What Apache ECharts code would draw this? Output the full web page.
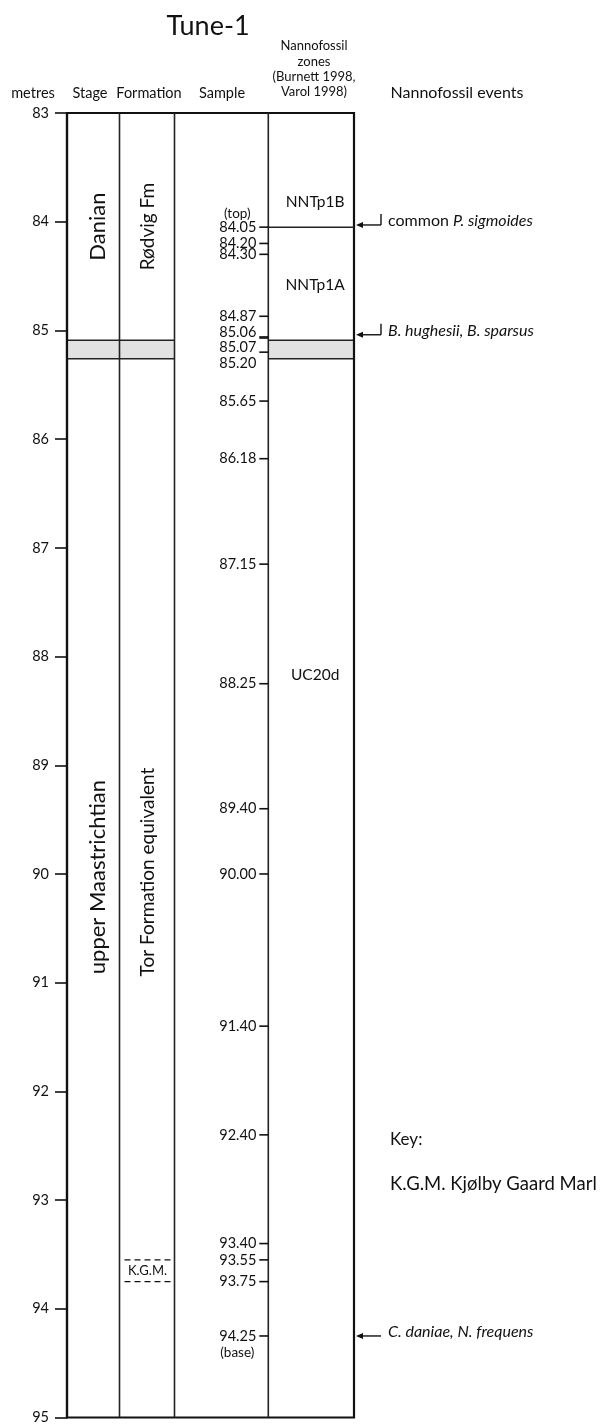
<!DOCTYPE html>
<html>
<head>
<meta charset="utf-8">
<title>Tune-1</title>
<script src="https://cdn.jsdelivr.net/npm/echarts@6/dist/echarts.min.js"></script>
<style>
  html, body { margin: 0; padding: 0; background: #fff; }
  #chart { width: 606px; height: 1425px; }
</style>
</head>
<body>
<div id="chart"></div>
<script>
// ---- Data ------------------------------------------------------------
// depth scale, metres
const depthTicks = [83, 84, 85, 86, 87, 88, 89, 90, 91, 92, 93, 94, 95];

// chronostratigraphy
const stageNames = ['Danian', 'upper Maastrichtian'];
const stageTop   = [83, 85.26];
const stageBase  = [85.09, 95];

// lithostratigraphy
const formationNames = ['Rødvig Fm', 'Tor Formation equivalent'];
const formationTop   = [83, 85.26];
const formationBase  = [85.09, 95];

// boundary clay interval
const boundaryClay = [85.09, 85.26];

// Kjølby Gaard Marl bed
const kgmBed = [93.55, 93.75];

// sample depths
const sampleDepths = [84.05, 84.20, 84.30, 84.87, 85.06, 85.07, 85.20, 85.65, 86.18,
                      87.15, 88.25, 89.40, 90.00, 91.40, 92.40, 93.40, 93.55, 93.75, 94.25];

// nannofossil zones
const zoneNames = ['NNTp1B', 'NNTp1A', 'UC20d'];
const zoneTop   = [83, 84.05, 85.26];
const zoneBase  = [84.05, 85.09, 95];

// nannofossil events
const eventNames  = ['common P. sigmoides', 'B. hughesii, B. sparsus', 'C. daniae, N. frequens'];
const eventDepths = [84.03, 85.04, 94.25];

// ---- Layout and style -----------------------------------------------
const FONT = 'Lato, "Open Sans", sans-serif';
const INK = '#111111';
const GRID = { left: 67, top: 113, width: 287, height: 1305 };
// column edges, px from the left edge of the log
const COL = { stage: [0, 52.5], formation: [52.5, 107.5], sample: [107.5, 201.3], zone: [201.3, 287] };
// depth at which each zone name is written
const zoneLabelDepth = [83.82, 84.58, 88.17];
// vertical shifts (px) of the rotated unit names from their interval centre
const stageLabelShift = [0, -11];
const formationLabelShift = [0, -16];
// vertical nudges (px) that keep crowded sample labels apart
const sampleLabelNudge = { '85.06': -5, '85.07': 9, '85.20': 11 };
// event marker style: bracketed arrow or plain arrow
const eventMarker = ['bracket', 'bracket', 'arrow'];

const chart = echarts.init(document.getElementById('chart'), null, { renderer: 'canvas' });

function textEl(x, y, text, size, opts, align) {
  return Object.assign({
    type: 'text',
    style: { x: x, y: y, text: text, font: size + 'px ' + FONT, fill: INK,
             align: align || 'center', verticalAlign: 'middle' }
  }, opts || {});
}

// frame and column dividers
const frameSeries = {
  type: 'custom', clip: false, silent: true, z: 6,
  data: [[0, depthTicks[0]]],
  renderItem: function (params, api) {
    const tl = api.coord([0, depthTicks[0]]);
    const br = api.coord([COL.zone[1], depthTicks[depthTicks.length - 1]]);
    const kids = [{
      type: 'rect',
      shape: { x: tl[0], y: tl[1], width: br[0] - tl[0], height: br[1] - tl[1] },
      style: { fill: null, stroke: INK, lineWidth: 2.2 }
    }];
    [COL.stage[1], COL.formation[1], COL.sample[1]].forEach(function (x) {
      const px = api.coord([x, depthTicks[0]])[0];
      kids.push({ type: 'line', shape: { x1: px, y1: tl[1], x2: px, y2: br[1] },
                  style: { stroke: '#222222', lineWidth: 1.6 } });
    });
    return { type: 'group', children: kids };
  }
};

// boundary clay band across the stage, formation and zone columns
const claySeries = {
  type: 'custom', clip: false, silent: true, z: 4,
  data: [boundaryClay],
  renderItem: function (params, api) {
    const top = api.value(0), base = api.value(1);
    const kids = [];
    [[COL.stage[0], COL.formation[1]], [COL.zone[0], COL.zone[1]]].forEach(function (span) {
      const a = api.coord([span[0], top]);
      const b = api.coord([span[1], base]);
      kids.push({ type: 'rect', shape: { x: a[0], y: a[1], width: b[0] - a[0], height: b[1] - a[1] },
                  style: { fill: '#e2e2e2', stroke: null } });
      kids.push({ type: 'line', shape: { x1: a[0], y1: a[1], x2: b[0], y2: a[1] },
                  style: { stroke: '#222222', lineWidth: 1.5 } });
      kids.push({ type: 'line', shape: { x1: a[0], y1: b[1], x2: b[0], y2: b[1] },
                  style: { stroke: '#222222', lineWidth: 1.5 } });
    });
    return { type: 'group', children: kids };
  }
};

// rotated unit names, placed at the centre of their interval
function unitSeries(names, tops, bases, shifts, xCentre, size) {
  return {
    type: 'custom', clip: false, silent: true, z: 7,
    data: names.map(function (n, i) { return [tops[i], bases[i], i]; }),
    renderItem: function (params, api) {
      const i = api.value(2);
      const mid = (api.value(0) + api.value(1)) / 2;
      const p = api.coord([xCentre, mid]);
      return textEl(0, 0, names[i], size, { x: p[0], y: p[1] + shifts[i], rotation: Math.PI / 2 });
    }
  };
}

// zone names and the internal zone boundary
const zoneSeries = {
  type: 'custom', clip: false, silent: true, z: 7,
  data: zoneNames.map(function (n, i) { return [zoneTop[i], zoneBase[i], i]; }),
  renderItem: function (params, api) {
    const i = api.value(2);
    const p = api.coord([(COL.zone[0] + COL.zone[1]) / 2 + 4, zoneLabelDepth[i]]);
    const kids = [textEl(p[0], p[1], zoneNames[i], 15.5)];
    if (i > 0 && api.value(0) === zoneBase[i - 1] && zoneTop[i] !== boundaryClay[1]) {
      const a = api.coord([COL.zone[0], api.value(0)]);
      const b = api.coord([COL.zone[1], api.value(0)]);
      kids.push({ type: 'line', shape: { x1: a[0], y1: a[1], x2: b[0], y2: b[1] },
                  style: { stroke: '#222222', lineWidth: 1.5 } });
    }
    return { type: 'group', children: kids };
  }
};

// sample ticks with depth labels
const sampleSeries = {
  type: 'custom', clip: false, silent: true, z: 7,
  data: sampleDepths.map(function (d, i) { return [COL.sample[1], d, i]; }),
  renderItem: function (params, api) {
    const d = api.value(1), i = api.value(2);
    const p = api.coord([COL.sample[1], d]);
    const key = d.toFixed(2);
    const ly = p[1] + (sampleLabelNudge[key] || 0);
    const kids = [
      { type: 'line', shape: { x1: p[0] - 9, y1: p[1], x2: p[0], y2: p[1] },
        style: { stroke: INK, lineWidth: 1.6 } },
      textEl(p[0] - 12, ly, key, 14.5, null, 'right')
    ];
    if (i === 0) {
      kids.push(textEl(p[0] - 31, ly - 14, '(top)', 13.5));
    }
    if (i === sampleDepths.length - 1) {
      kids.push(textEl(p[0] - 31, ly + 17, '(base)', 13.5));
    }
    return { type: 'group', children: kids };
  }
};

// Kjølby Gaard Marl bed in the formation column
const kgmSeries = {
  type: 'custom', clip: false, silent: true, z: 7,
  data: [kgmBed],
  renderItem: function (params, api) {
    const top = api.value(0), base = api.value(1);
    const a = api.coord([COL.formation[0] + 5, top]);
    const b = api.coord([COL.formation[1], base]);
    const dash = { stroke: INK, lineWidth: 1.2, lineDash: [6, 4] };
    return { type: 'group', children: [
      { type: 'line', shape: { x1: a[0], y1: a[1], x2: b[0], y2: a[1] }, style: dash },
      { type: 'line', shape: { x1: a[0], y1: b[1], x2: b[0], y2: b[1] }, style: dash },
      textEl((a[0] + b[0]) / 2 - 2, (a[1] + b[1]) / 2, 'K.G.M.', 13)
    ] };
  }
};

// nannofossil events: arrows pointing at the log
const eventSeries = {
  type: 'custom', clip: false, silent: true, z: 7,
  data: eventDepths.map(function (d, i) { return [COL.zone[1], d, i]; }),
  renderItem: function (params, api) {
    const i = api.value(2);
    const p = api.coord([COL.zone[1], api.value(1)]);
    const x0 = p[0] + 2, x1 = p[0] + 27, y = p[1];
    const kids = [
      { type: 'line', shape: { x1: x0 + 5, y1: y, x2: x1, y2: y }, style: { stroke: INK, lineWidth: 1.4 } },
      { type: 'polygon', shape: { points: [[x0, y], [x0 + 7, y - 3], [x0 + 7, y + 3]] }, style: { fill: INK } }
    ];
    if (eventMarker[i] === 'bracket') {
      kids.push({ type: 'line', shape: { x1: x1, y1: y, x2: x1, y2: y - 11 }, style: { stroke: INK, lineWidth: 1.4 } });
    }
    const name = eventNames[i];
    const rich = name.indexOf('common ') === 0
      ? '{n|common }{i|' + name.slice(7) + '}'
      : '{i|' + name + '}';
    kids.push({ type: 'text', style: {
      x: p[0] + 34, y: y - 4, text: rich, align: 'left', verticalAlign: 'middle',
      rich: {
        n: { font: '16px ' + FONT, fill: INK },
        i: { font: 'italic 16px ' + FONT, fill: INK }
      }
    } });
    return { type: 'group', children: kids };
  }
};

const header = [
  textEl(208, 26, 'Tune-1', 27),
  textEl(33, 93, 'metres', 14.5),
  textEl(90, 93, 'Stage', 14.5),
  textEl(149, 93, 'Formation', 14.5),
  textEl(222, 93, 'Sample', 14.5),
  textEl(314, 46, 'Nannofossil', 13),
  textEl(314, 62, 'zones', 13),
  textEl(314, 77, '(Burnett 1998,', 13),
  textEl(314, 92, 'Varol 1998)', 13),
  textEl(457, 93, 'Nannofossil events', 16),
  textEl(390, 1140, 'Key:', 17, null, 'left'),
  textEl(390, 1184, 'K.G.M. Kjølby Gaard Marl', 18.5, null, 'left')
];

chart.setOption({
  animation: false,
  backgroundColor: '#fff',
  grid: GRID,
  xAxis: { type: 'value', min: 0, max: COL.zone[1], show: false },
  yAxis: {
    type: 'value', inverse: true,
    min: depthTicks[0], max: depthTicks[depthTicks.length - 1], interval: 1,
    axisLine: { show: true, lineStyle: { color: INK, width: 2.2 } },
    axisTick: { show: true, inside: false, length: 12, lineStyle: { color: INK, width: 1.6 } },
    axisLabel: { color: INK, fontSize: 14.5, fontFamily: FONT, margin: 18 },
    splitLine: { show: false }
  },
  graphic: header.map(function (g) { return Object.assign({ silent: true }, g); }),
  series: [
    claySeries,
    frameSeries,
    unitSeries(stageNames, stageTop, stageBase, stageLabelShift, 30.5, 22),
    unitSeries(formationNames, formationTop, formationBase, formationLabelShift, 81, 19),
    zoneSeries,
    sampleSeries,
    kgmSeries,
    eventSeries
  ]
});
</script>
</body>
</html>
